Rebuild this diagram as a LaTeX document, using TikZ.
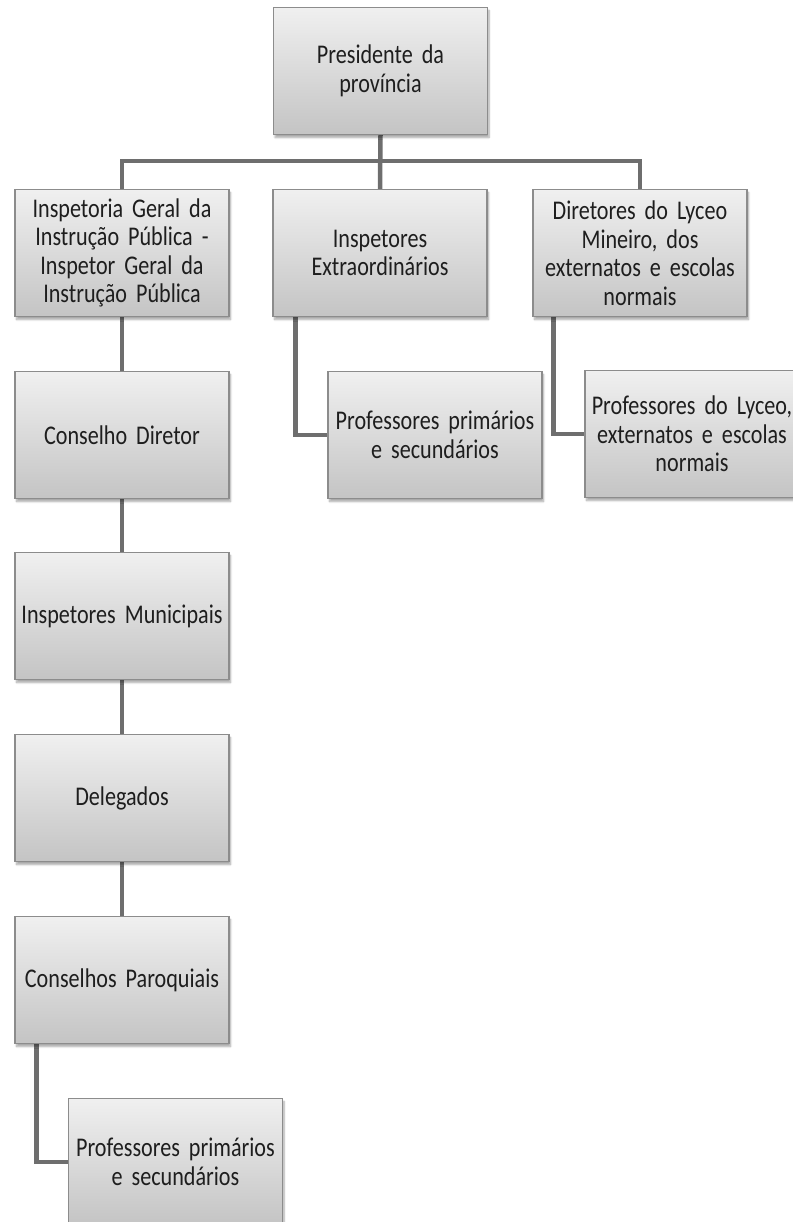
\documentclass[tikz,border=0pt]{standalone}
\usepackage{fontspec}
\setmainfont{Carlito}[FakeStretch=0.82,WordSpace=0.85]
\usetikzlibrary{shadows.blur,backgrounds}
\definecolor{boxtop}{HTML}{F0F0F0}
\definecolor{boxbot}{HTML}{C4C4C4}
\definecolor{boxline}{HTML}{8C8C8C}
\definecolor{conn}{HTML}{6E6E6E}
\definecolor{txt}{HTML}{1E1E1E}
\tikzset{
  orgbox/.style={draw=boxline, line width=1.2pt, top color=boxtop, bottom color=boxbot,
    minimum width=214pt, minimum height=127pt, text width=210pt, align=center,
    inner sep=2pt, text=txt, font=\fontsize{27}{28.5}\selectfont,
    blur shadow={shadow blur steps=6, shadow xshift=1.5pt, shadow yshift=-3pt, shadow opacity=35}},
  link/.style={draw=conn, line width=4.5pt}
}
\begin{document}
\begin{tikzpicture}[x=1pt,y=-1pt]
\useasboundingbox (0,0) rectangle (792,1222);
\node[orgbox] (pres) at (380.5,71) {Presidente da\\província};
\node[orgbox] (insp) at (122,253) {Inspetoria Geral da\\Instrução Pública -\\Inspetor Geral da\\Instrução Pública};
\node[orgbox] (ext) at (380,253) {Inspetores\\Extraordinários};
\node[orgbox] (dir) at (640,253) {Diretores do Lyceo\\Mineiro, dos\\externatos e escolas\\normais};
\node[orgbox] (cdir) at (122,435) {Conselho Diretor};
\node[orgbox] (profm) at (435,435) {Professores primários\\e secundários};
\node[orgbox] (lyc) at (692,434) {Professores do Lyceo,\\externatos e escolas\\normais};
\node[orgbox] (imun) at (122,616) {Inspetores Municipais};
\node[orgbox] (deleg) at (122,798) {Delegados};
\node[orgbox] (cpar) at (122,980) {Conselhos Paroquiais};
\node[orgbox] (profb) at (175.5,1162) {Professores primários\\e secundários};
\begin{scope}[on background layer]
\draw[link] (pres.south) -- (ext.north);
\draw[link] (insp.north) -- ++(0,-28) coordinate (barl) -| (dir.north);
\draw[link] (insp.south) -- (cdir.north);
\draw[link] (cdir.south) -- (imun.north);
\draw[link] (imun.south) -- (deleg.north);
\draw[link] (deleg.south) -- (cpar.north);
\draw[link] ([xshift=23pt]ext.south west) |- (profm.west);
\draw[link] ([xshift=21pt]dir.south west) |- (lyc.west);
\draw[link] ([xshift=22pt]cpar.south west) |- (profb.west);
\end{scope}
\end{tikzpicture}
\end{document}
